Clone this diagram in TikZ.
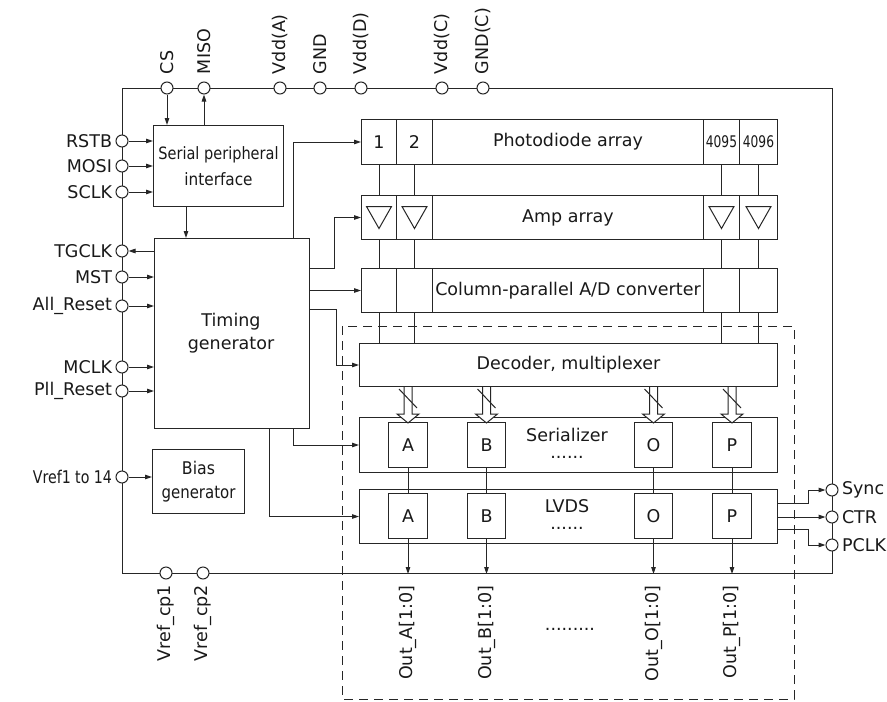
\documentclass[tikz,border=0pt]{standalone}
\usepackage{fontspec}
\setmainfont{DejaVu Sans}
\newfontfamily\condf{DejaVu Sans Condensed}
\usetikzlibrary{arrows.meta,calc}
\begin{document}
\begin{tikzpicture}[x=1pt,y=-1pt,
  line width=1pt, draw=black!85,
  every node/.style={font=\fontsize{17.5}{23}\selectfont, inner sep=0pt, text=black!90},
  box/.style={draw, rectangle, anchor=north west, align=center},
  pinc/.style={draw, circle, fill=white, minimum size=12pt, inner sep=0pt},
  arr/.style={-{Triangle[length=7pt,width=4.5pt]}},
  cellno/.style={font=\condf\fontsize{16}{16}\selectfont},
  dots/.style={anchor=base, text height=2pt, text depth=0pt}
]
\fill[white] (0,0) rectangle (887,702);
\useasboundingbox (0,0) rectangle (887,702);

% chip outline
\node[draw, rectangle, anchor=north west, minimum width=710, minimum height=485] (chip) at (122,88) {};

% dashed region
\draw[dash pattern=on 9pt off 6pt] (342,326) rectangle (794,699);

% blocks
\node[box, minimum width=130, minimum height=81, font=\condf\fontsize{17}{26}\selectfont] (spi) at (153,125) {\scalebox{0.95}[1]{Serial peripheral}\\interface};
\node[box, minimum width=155, minimum height=190] (tg) at (154,238) {};
\node[align=center] (tgt) at (231,333) {Timing\\generator};
\node[box, minimum width=92, minimum height=64, font=\condf\fontsize{17.5}{24}\selectfont] (bias) at (152,449) {Bias\\\scalebox{0.95}[1]{generator}};

% photodiode row
\node[box, minimum width=35, minimum height=45] (pd1) at (361,119) {1};
\node[box, minimum width=36, minimum height=45] (pd2) at (396,119) {2};
\node[box, minimum width=271, minimum height=45] (pdm) at (432,119) {Photodiode array};
\node[box, minimum width=36, minimum height=45, cellno] (pd3) at (703,119) {\scalebox{0.85}[1]{4095}};
\node[box, minimum width=38, minimum height=45, cellno] (pd4) at (739,119) {\scalebox{0.85}[1]{4096}};

% amp row
\node[box, minimum width=35, minimum height=44] (amp1) at (361,195) {};
\node[box, minimum width=36, minimum height=44] (amp2) at (396,195) {};
\node[box, minimum width=271, minimum height=44] (ampm) at (432,195) {Amp array};
\node[box, minimum width=36, minimum height=44] (amp3) at (703,195) {};
\node[box, minimum width=38, minimum height=44] (amp4) at (739,195) {};

% adc row
\node[box, minimum width=35, minimum height=44] (adc1) at (361,268) {};
\node[box, minimum width=36, minimum height=44] (adc2) at (396,268) {};
\node[box, minimum width=271, minimum height=44] (adcm) at (432,268) {Column-parallel A/D converter};
\node[box, minimum width=36, minimum height=44] (adc3) at (703,268) {};
\node[box, minimum width=38, minimum height=44] (adc4) at (739,268) {};

% decoder
\node[box, minimum width=418, minimum height=43] (dec) at (359,343) {Decoder, multiplexer};

% serializer
\node[box, minimum width=418, minimum height=55] (ser) at (359,417) {};
\node (sert) at (567,435) {Serializer};
\node[dots] (serd) at (567,458) {......};
\node[box, minimum width=39, minimum height=45] (sA) at (388,422) {A};
\node[box, minimum width=38, minimum height=45] (sB) at (467,422) {B};
\node[box, minimum width=38, minimum height=45] (sO) at (634,422) {O};
\node[box, minimum width=39, minimum height=45] (sP) at (712,422) {P};

% LVDS
\node[box, minimum width=418, minimum height=54] (lvds) at (359,489) {};
\node (lvt) at (567,506) {LVDS};
\node[dots] (lvd) at (567,529) {......};
\node[box, minimum width=39, minimum height=45] (lA) at (388,493) {A};
\node[box, minimum width=38, minimum height=45] (lB) at (467,493) {B};
\node[box, minimum width=38, minimum height=45] (lO) at (634,493) {O};
\node[box, minimum width=39, minimum height=45] (lP) at (712,493) {P};

% column lines and amplifiers
\foreach \i in {1,2,3,4}{
  \draw (pd\i.south) -- (amp\i.north);
  \draw (amp\i.south) -- (adc\i.north);
  \draw (adc\i.south) -- (adc\i.south |- dec.north);
  \draw ($(amp\i.center)+(-12.5,-11)$) -- ($(amp\i.center)+(12.5,-11)$) -- ($(amp\i.center)+(0,11)$) -- cycle;
}

% bus arrows decoder -> serializer, serializer -> LVDS, LVDS -> outputs
\foreach \X in {A,B,O,P}{
  \coordinate (b\X) at (s\X.north |- dec.south);
  \draw[fill=white] ($(b\X)+(-4,0)$) -- ($(b\X)+(-4,27)$) -- ($(b\X)+(-11,27)$) -- ($(b\X)+(0,36)$)
        -- ($(b\X)+(11,27)$) -- ($(b\X)+(4,27)$) -- ($(b\X)+(4,0)$);
  \draw ($(b\X)+(-9,2)$) -- ($(b\X)+(9,21)$);
  \draw (s\X.south) -- (l\X.north);
  \draw[arr] (l\X.south) -- (l\X.south |- chip.south);
}

% pins top
\node[pinc] (cs) at (167,88) {};
\node[pinc] (miso) at (204,88) {};
\node[pinc] (vdda) at (280,88) {};
\node[pinc] (gnd) at (320,88) {};
\node[pinc] (vddd) at (361,88) {};
\node[pinc] (vddc) at (442,88) {};
\node[pinc] (gndc) at (483,88) {};
\foreach \p/\t in {cs/CS, miso/MISO, vdda/Vdd(A), gnd/GND, vddd/Vdd(D), vddc/Vdd(C), gndc/GND(C)}{
  \node[rotate=90, anchor=west] at ($(\p.north)+(0,-7)$) {\t};
}

% pins left
\node[pinc] (rstb) at (122,141) {};
\node[pinc] (mosi) at (122,166) {};
\node[pinc] (sclk) at (122,192) {};
\node[pinc] (tgclk) at (122,251) {};
\node[pinc] (mst) at (122,277) {};
\node[pinc] (allr) at (122,306) {};
\node[pinc] (mclk) at (122,367) {};
\node[pinc] (pllr) at (122,391) {};
\node[pinc] (vref) at (122,477) {};
\foreach \p/\t in {rstb/RSTB, mosi/MOSI, sclk/SCLK, tgclk/TGCLK, mst/MST, allr/All\_Reset, mclk/MCLK, pllr/Pll\_Reset}{
  \node[anchor=east] at ($(\p.west)+(-3,0)$) {\t};
}
\node[anchor=east, font=\condf\fontsize{17.5}{20}\selectfont] at ($(vref.west)+(-3,0)$) {\scalebox{0.9}[1]{Vref1 to 14}};

% pins bottom
\node[pinc] (vcp1) at (166,573) {};
\node[pinc] (vcp2) at (203,573) {};
\node[rotate=90, anchor=east] at ($(vcp1.south)+(0,5)$) {Vref\_cp1};
\node[rotate=90, anchor=east] at ($(vcp2.south)+(0,5)$) {Vref\_cp2};

% pins right
\node[pinc] (sync) at (832,490) {};
\node[pinc] (ctr) at (832,517) {};
\node[pinc] (pclk) at (832,545) {};
\node[anchor=west] at ($(sync.east)+(3,0)$) {Sync};
\node[anchor=west] at ($(ctr.east)+(3,0)$) {CTR};
\node[anchor=west] at ($(pclk.east)+(3,0)$) {PCLK};

% output labels
\foreach \X in {A,B,O,P}{
  \node[rotate=90, anchor=east] at ($(l\X.south |- chip.south)+(0,11)$) {Out\_\X[1:0]};
}
\node[dots] (odots) at (570,630) {.........};

% SPI connections
\draw[arr] (cs.south) -- (cs.south |- spi.north);
\draw[arr] (miso.south |- spi.north) -- (miso.south);
\foreach \p in {rstb,mosi,sclk}{ \draw[arr] (\p.east) -- (\p.east -| spi.west); }
\draw[arr] ([xshift=33pt]spi.south west) -- ([xshift=33pt]spi.south west |- tg.north);

% timing generator connections
\draw[arr] (tgclk.east -| tg.west) -- (tgclk.east);
\foreach \p in {mst,allr,mclk,pllr}{ \draw[arr] (\p.east) -- (\p.east -| tg.west); }
\draw[arr] (vref.east) -- (vref.east -| bias.west);

\coordinate (t1) at (293,238);
\coordinate (t2) at (309,268);
\coordinate (t4) at (309,309);
\coordinate (t5) at (293,428);
\coordinate (t6) at (269,428);
\draw[arr] (t1) |- (pd1.west);
\draw[arr] (t2) -- (334,268) |- (amp1.west);
\draw[arr] (tg.east |- adc1.west) -- (adc1.west);
\draw[arr] (t4) -- (336,309) |- (dec.west);
\draw[arr] (t5) |- (ser.west);
\draw[arr] (t6) |- (lvds.west);

% LVDS right outputs
\coordinate (r1) at (777,503);
\coordinate (r3) at (777,529);
\draw[arr] (r1) -- (808,503) |- (sync.west);
\draw[arr] (lvds.east |- ctr.west) -- (ctr.west);
\draw[arr] (r3) -- (808,529) |- (pclk.west);
\end{tikzpicture}
\end{document}
